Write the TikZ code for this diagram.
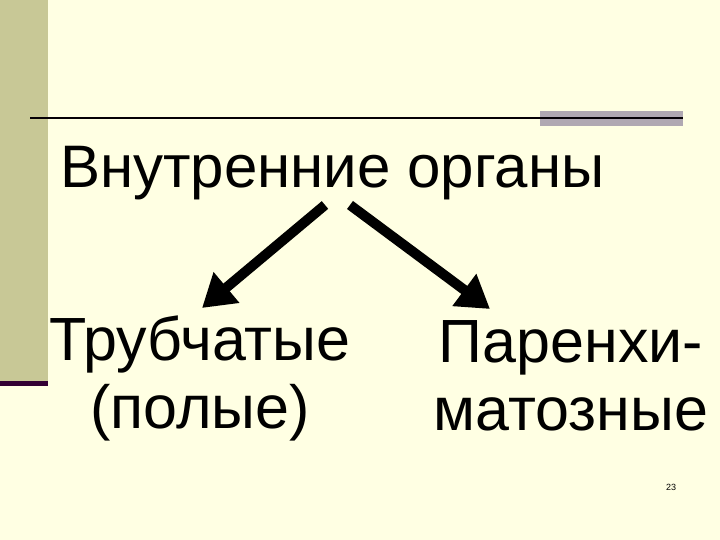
\documentclass[tikz,border=0pt]{standalone}
\usepackage{fontspec}
\setmainfont{Liberation Sans}
\usetikzlibrary{arrows.meta}

\definecolor{slidebg}{HTML}{FFFFE3}
\definecolor{bandkhaki}{HTML}{C8C896}
\definecolor{bandplum}{HTML}{330033}
\definecolor{bargray}{HTML}{B0A8B2}

\tikzset{
    words/.style={inner sep=0pt, align=center, anchor=base,
        font=\fontsize{61}{68}\selectfont},
    branch/.style={line width=10pt, -{Triangle[length=32pt,width=38pt]}}
}

\begin{document}
\begin{tikzpicture}[x=1pt,y=-1pt]

% Slide background and frame
\fill[slidebg] (0,0) rectangle (720,540);
\useasboundingbox (0,0) rectangle (720,540);
\fill[bandkhaki] (0,0) rectangle (48,381);
\fill[bandplum] (0,381) rectangle (48,386);
\fill[bargray] (540,111) rectangle (683,126);
\draw[line width=2.5pt, black!90!bandplum] (30,118) -- (683,118);

% Title
\node[inner sep=0pt, anchor=base west, font=\fontsize{60}{64}\selectfont]
    (title) at (60,188) {Внутренние органы};

% Two kinds of organs (base = last line)
\node[words] (tubular) at (200,428) {Трубчатые\\(полые)};
\node[words] (parench) at (571,430) {Паренхи-\\матозные};

% Arrows
\coordinate (lstart) at (325,205);
\coordinate (lend) at (202,308);
\coordinate (rstart) at (350,205);
\coordinate (rend) at (490,309);
\draw[branch] (lstart) -- (lend);
\draw[branch] (rstart) -- (rend);

% Page number
\node[inner sep=0pt] (pagenum) at (671,487) {\fontsize{9}{10}\selectfont 23};

\end{tikzpicture}
\end{document}
